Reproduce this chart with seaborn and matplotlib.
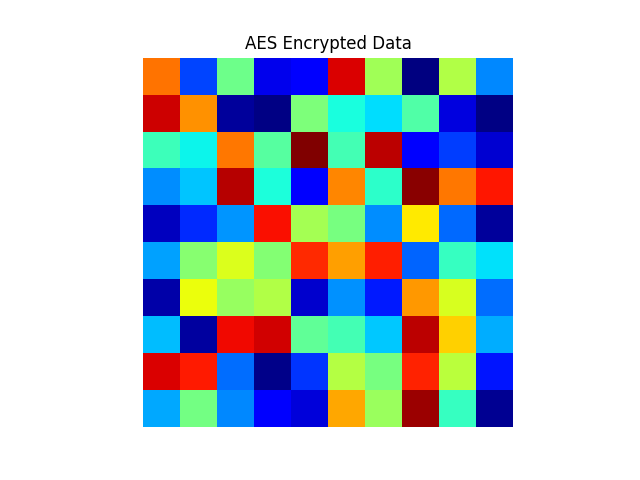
import numpy as np
import pandas as pd
import matplotlib
matplotlib.use("Agg")
import matplotlib.pyplot as plt
import seaborn as sns

row0 = [201, 49, 123, 24, 29, 235, 139, 0, 144, 66]
row1 = [238, 193, 6, 1, 128, 97, 87, 114, 21, 1]
row2 = [108, 93, 200, 116, 255, 110, 242, 29, 47, 18]
row3 = [67, 81, 243, 98, 30, 196, 103, 253, 200, 226]
row4 = [14, 42, 69, 228, 140, 126, 67, 169, 58, 6]
row5 = [72, 131, 157, 130, 221, 189, 224, 57, 106, 88]
row6 = [9, 162, 136, 144, 17, 68, 38, 191, 156, 59]
row7 = [79, 7, 230, 237, 119, 110, 82, 242, 176, 75]
row8 = [235, 225, 59, 2, 45, 145, 126, 223, 147, 37]
row9 = [74, 125, 66, 29, 20, 187, 137, 249, 106, 4]

data = np.array([row0, row1, row2, row3, row4, row5, row6, row7, row8, row9])

fig, ax = plt.subplots(figsize=(6.4, 4.8), dpi=100)
sns.heatmap(data, cmap="jet", vmin=0, vmax=255, cbar=False, square=True,
            xticklabels=False, yticklabels=False, ax=ax)
ax.set_title("AES Encrypted Data")
ax.axis("off")
fig.savefig("out.png", dpi=100)
